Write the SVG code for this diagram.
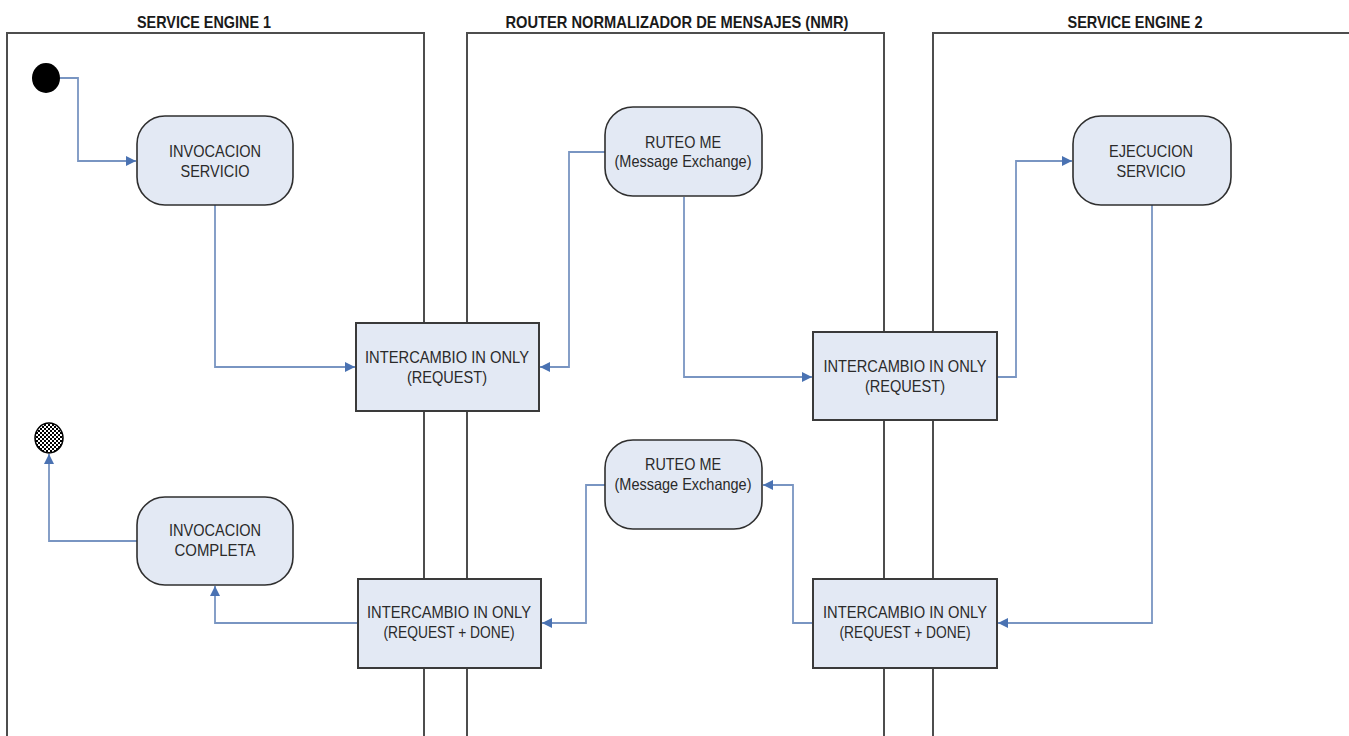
<svg xmlns="http://www.w3.org/2000/svg" width="1349" height="736" viewBox="0 0 1349 736">
  <style>
    .lane { fill: none; stroke: #4d4d4d; stroke-width: 2; }
    .hdr { font-family: "Liberation Sans", Arial, sans-serif; font-weight: bold; font-size: 16.5px; fill: #1a1a1a; text-anchor: middle; }
    .state { fill: #e3e9f4; stroke: #2f2f2f; stroke-width: 1.6; }
    .box { fill: #e3e9f4; stroke: #3a3a3a; stroke-width: 2; }
    .lbl { font-family: "Liberation Sans", Arial, sans-serif; font-size: 16.5px; fill: #2a2a2a; text-anchor: middle; }
    .conn { fill: none; stroke: #7995c2; stroke-width: 1.8; marker-end: url(#arrow); }
  </style>
  <defs>
    <marker id="arrow" viewBox="0 0 10 10" refX="10" refY="5" markerWidth="10" markerHeight="10" markerUnits="userSpaceOnUse" orient="auto">
      <path d="M0,0 L10,5 L0,10 Z" fill="#4a72b2"/>
    </marker>
    <pattern id="checker" width="4" height="4" patternUnits="userSpaceOnUse">
      <rect width="4" height="4" fill="#ffffff"/>
      <rect width="2" height="2" fill="#000000"/>
      <rect x="2" y="2" width="2" height="2" fill="#000000"/>
    </pattern>
  </defs>

  <rect width="1349" height="736" fill="#ffffff"/>

  <!-- swimlanes -->
  <g id="lane-se1">
    <rect class="lane" x="7" y="33" width="417" height="720"/>
    <text class="hdr" x="204" y="28" textLength="134" lengthAdjust="spacingAndGlyphs">SERVICE ENGINE 1</text>
  </g>
  <g id="lane-nmr">
    <rect class="lane" x="467" y="33" width="417" height="720"/>
    <text class="hdr" x="677" y="28" textLength="343" lengthAdjust="spacingAndGlyphs">ROUTER NORMALIZADOR DE MENSAJES (NMR)</text>
  </g>
  <g id="lane-se2">
    <rect class="lane" x="933" y="33" width="430" height="720"/>
    <text class="hdr" x="1135" y="28" textLength="135" lengthAdjust="spacingAndGlyphs">SERVICE ENGINE 2</text>
  </g>

  <!-- connectors -->
  <g id="connectors">
    <path class="conn" d="M60,78 H78 V161 H136"/>
    <path class="conn" d="M215,205 V367 H355"/>
    <path class="conn" d="M605,152 H569 V367 H540"/>
    <path class="conn" d="M684,197 V377 H812"/>
    <path class="conn" d="M997,377 H1016 V161 H1072"/>
    <path class="conn" d="M1152,205 V623 H998"/>
    <path class="conn" d="M813,623 H793 V485 H763"/>
    <path class="conn" d="M605,485 H586 V623 H542"/>
    <path class="conn" d="M358,623 H215 V586"/>
    <path class="conn" d="M137,541 H49 V454"/>
  </g>

  <!-- start / end -->
  <g id="initial">
    <ellipse cx="46" cy="78" rx="14" ry="15" fill="#000000"/>
  </g>
  <g id="final">
    <ellipse cx="49" cy="438" rx="14" ry="15" fill="url(#checker)" stroke="#000000" stroke-width="1.5"/>
  </g>

  <!-- states -->
  <g id="invocacion-servicio">
    <rect class="state" x="137" y="116" width="156" height="89" rx="28" ry="28"/>
    <text class="lbl" x="215" y="157" textLength="92" lengthAdjust="spacingAndGlyphs">INVOCACION</text>
    <text class="lbl" x="215" y="177" textLength="69" lengthAdjust="spacingAndGlyphs">SERVICIO</text>
  </g>
  <g id="ruteo-me-1">
    <rect class="state" x="605" y="107" width="157" height="89" rx="28" ry="28"/>
    <text class="lbl" x="683" y="148" textLength="76" lengthAdjust="spacingAndGlyphs">RUTEO ME</text>
    <text class="lbl" x="683" y="167" textLength="137" lengthAdjust="spacingAndGlyphs">(Message Exchange)</text>
  </g>
  <g id="ejecucion-servicio">
    <rect class="state" x="1073" y="116" width="158" height="89" rx="28" ry="28"/>
    <text class="lbl" x="1151" y="157" textLength="84" lengthAdjust="spacingAndGlyphs">EJECUCION</text>
    <text class="lbl" x="1151" y="177" textLength="69" lengthAdjust="spacingAndGlyphs">SERVICIO</text>
  </g>
  <g id="ruteo-me-2">
    <rect class="state" x="605" y="440" width="157" height="89" rx="28" ry="28"/>
    <text class="lbl" x="683" y="470" textLength="76" lengthAdjust="spacingAndGlyphs">RUTEO ME</text>
    <text class="lbl" x="683" y="490" textLength="137" lengthAdjust="spacingAndGlyphs">(Message Exchange)</text>
  </g>
  <g id="invocacion-completa">
    <rect class="state" x="137" y="497" width="156" height="88" rx="28" ry="28"/>
    <text class="lbl" x="215" y="536" textLength="92" lengthAdjust="spacingAndGlyphs">INVOCACION</text>
    <text class="lbl" x="215" y="556" textLength="81" lengthAdjust="spacingAndGlyphs">COMPLETA</text>
  </g>

  <!-- exchanges on lane boundaries -->
  <g id="intercambio-request-1">
    <rect class="box" x="356" y="323" width="183" height="88"/>
    <text class="lbl" x="447" y="363" textLength="164" lengthAdjust="spacingAndGlyphs">INTERCAMBIO IN ONLY</text>
    <text class="lbl" x="447" y="383" textLength="80" lengthAdjust="spacingAndGlyphs">(REQUEST)</text>
  </g>
  <g id="intercambio-request-2">
    <rect class="box" x="813" y="332" width="184" height="88"/>
    <text class="lbl" x="905" y="372" textLength="163" lengthAdjust="spacingAndGlyphs">INTERCAMBIO IN ONLY</text>
    <text class="lbl" x="905" y="392" textLength="80" lengthAdjust="spacingAndGlyphs">(REQUEST)</text>
  </g>
  <g id="intercambio-done-1">
    <rect class="box" x="358" y="579" width="183" height="89"/>
    <text class="lbl" x="449" y="618" textLength="164" lengthAdjust="spacingAndGlyphs">INTERCAMBIO IN ONLY</text>
    <text class="lbl" x="449" y="638" textLength="131" lengthAdjust="spacingAndGlyphs">(REQUEST + DONE)</text>
  </g>
  <g id="intercambio-done-2">
    <rect class="box" x="813" y="579" width="184" height="89"/>
    <text class="lbl" x="905" y="618" textLength="164" lengthAdjust="spacingAndGlyphs">INTERCAMBIO IN ONLY</text>
    <text class="lbl" x="905" y="638" textLength="131" lengthAdjust="spacingAndGlyphs">(REQUEST + DONE)</text>
  </g>
</svg>
